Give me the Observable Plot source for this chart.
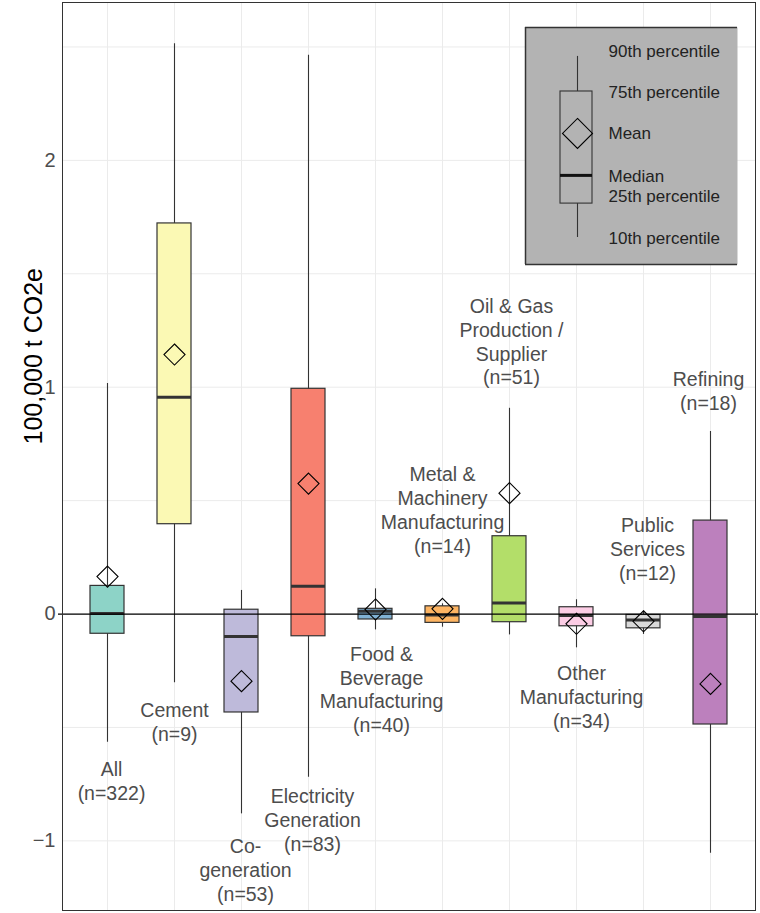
<!DOCTYPE html>
<html><head><meta charset="utf-8">
<script src="https://cdn.jsdelivr.net/npm/d3@7"></script>
<script src="https://cdn.jsdelivr.net/npm/@observablehq/plot@0.6"></script>
<style>
body{margin:0;background:#fff;}
#wrap{position:relative;width:760px;height:913px;}
#legend{position:absolute;left:525px;top:27px;}
</style></head><body><div id="wrap"></div>
<script>
// ---- data ----
const categories = ["All","Cement","Co-generation","Electricity Generation","Food & Beverage Manufacturing","Metal & Machinery Manufacturing","Oil & Gas Production / Supplier","Other Manufacturing","Public Services","Refining"];
const labelLines = [["All"],["Cement"],["Co-","generation"],["Electricity","Generation"],["Food &","Beverage","Manufacturing"],["Metal &","Machinery","Manufacturing"],["Oil & Gas","Production /","Supplier"],["Other","Manufacturing"],["Public","Services"],["Refining"]];
const counts = [322, 9, 53, 83, 40, 14, 51, 34, 12, 18];
const p90    = [1.016, 2.514, 0.104, 2.463, 0.111, 0.045, 0.907, 0.063, 0.012, 0.805];
const p75    = [0.124, 1.722, 0.019, 0.993, 0.023, 0.034, 0.343, 0.030, -0.004, 0.412];
const median = [0.002, 0.956, -0.099, 0.123, 0.012, -0.004, 0.049, -0.007, -0.026, -0.011];
const mean   = [0.165, 1.144, -0.296, 0.575, 0.020, 0.023, 0.533, -0.043, -0.032, -0.308];
const p25    = [-0.087, 0.396, -0.434, -0.098, -0.024, -0.039, -0.036, -0.054, -0.063, -0.487];
const p10    = [-0.565, -0.303, -0.881, -0.720, -0.070, -0.058, -0.092, -0.149, -0.090, -1.055];
const colors = ["#8dd3c7","#fbf9b4","#bebada","#f7806f","#80b1d3","#fdb462","#b3de69","#fccde5","#d9d9d9","#bc80bd"];
const yTicks = [-1, 0, 1, 2];
const yGrid = [-1, -0.5, 0, 0.5, 1, 1.5, 2, 2.5];
const yTitle = "100,000 t CO2e";
const legendLabels = ["90th percentile","75th percentile","Mean","Median","25th percentile","10th percentile"];
const legendStats = {p10: 1.14, p25: 2.57, median: 3.76, mean: 5.53, p75: 7.30, p90: 8.78};
const legendLabelY = [9.0, 7.27, 5.53, 3.7, 2.85, 1.1];

// ---- label placement (styles) ----
const labelSide = ["below","below","below","below","below","above","above","below","above","above"];
const labelDy = [16.4, 16.8, 21.7, 8.2, 13.6, -51.3, -23.8, 14.7, -31.8, -21.9];
const labelDx = [4, 0, 4, 4, 6, 0, 2, 5, 4, -2];

const rows = categories.map((c, i) => ({cat: c, p10: p10[i], p25: p25[i], median: median[i], mean: mean[i], p75: p75[i], p90: p90[i], color: colors[i], n: counts[i], lines: labelLines[i]}));

const font = "'Liberation Sans', Arial, Helvetica, sans-serif";

const labelMarks = rows.map((r, i) => Plot.text([r], {
  x: "cat",
  y: labelSide[i] === "below" ? "p10" : "p90",
  text: d => [...d.lines, `(n=${d.n})`].join("\n"),
  lineAnchor: labelSide[i] === "below" ? "top" : "bottom",
  lineHeight: 1.23,
  dy: labelDy[i],
  dx: labelDx[i],
  fontSize: 19.5,
  fill: "#4d4d4d"
}));

const fmt = d => (d < 0 ? "\u2212" + Math.abs(d) : String(d));

const chart = Plot.plot({
  width: 760, height: 913,
  marginLeft: 62, marginRight: 5, marginTop: 2, marginBottom: 3,
  style: {fontFamily: font, fontSize: "19.5px", color: "#4d4d4d", background: "#fff", overflow: "visible"},
  x: {type: "band", domain: categories, paddingInner: 0.5, paddingOuter: 0.35, axis: null},
  y: {domain: [-1.307, 2.696], axis: null},
  color: {type: "identity"},
  marks: [
    Plot.ruleY(yGrid, {stroke: "#ebebeb", strokeWidth: 1}),
    Plot.ruleX(categories, {x: d => d, stroke: "#ebebeb", strokeWidth: 1}),
    Plot.axisY(yTicks, {tickSize: 0, tickPadding: 7, label: null, tickFormat: fmt, fontSize: 20, fill: "#4d4d4d"}),
    Plot.ruleX(rows, {x: "cat", y1: "p10", y2: "p90", stroke: "#333", strokeWidth: 1.1}),
    Plot.barY(rows, {x: "cat", y1: "p25", y2: "p75", fill: "color", stroke: "#333", strokeWidth: 1.2}),
    Plot.tickY(rows, {x: "cat", y: "median", stroke: "#333", strokeWidth: 3}),
    Plot.ruleY([0], {stroke: "#000", strokeWidth: 1.2, insetLeft: -4, insetRight: -3}),
    Plot.dot(rows, {x: "cat", y: "mean", symbol: "diamond2", r: 9.5, stroke: "#000", strokeWidth: 1.1, fill: "none"}),
    ...labelMarks,
    Plot.text([yTitle], {frameAnchor: "left", rotate: -90, dx: -29, dy: -12, fontSize: 25, fill: "#000"}),
    Plot.frame({stroke: "#333", strokeWidth: 1})
  ]
});

const legend = Plot.plot({
  width: 212, height: 237, margin: 0,
  style: {fontFamily: font, background: "transparent", overflow: "visible"},
  x: {domain: [0, 212], axis: null},
  y: {domain: [0, 10], axis: null},
  marks: [
    Plot.frame({fill: "#b3b3b3", stroke: null}),
    Plot.ruleX([0], {stroke: "#333", strokeWidth: 1.5}),
    Plot.ruleY([0, 10], {stroke: "#333", strokeWidth: 1.5}),
    Plot.ruleX([legendStats], {x: 52, y1: "p75", y2: "p90", stroke: "#333", strokeWidth: 1.1}),
    Plot.ruleX([legendStats], {x: 52, y1: "p10", y2: "p25", stroke: "#333", strokeWidth: 1.1}),
    Plot.rect([legendStats], {x1: 35, x2: 67, y1: "p25", y2: "p75", fill: "none", stroke: "#333", strokeWidth: 1.1}),
    Plot.ruleY([legendStats], {y: "median", x1: 35, x2: 67, stroke: "#111", strokeWidth: 3}),
    Plot.dot([legendStats], {x: 52, y: "mean", symbol: "diamond2", r: 13.5, stroke: "#000", strokeWidth: 1.1, fill: "none"}),
    Plot.text(legendLabels, {x: 83, y: (d, i) => legendLabelY[i], textAnchor: "start", fontSize: 17, fill: "#222"})
  ]
});
legend.id = "legend";

const wrap = document.getElementById("wrap");
wrap.appendChild(chart);
wrap.appendChild(legend);
</script>
</body></html>
